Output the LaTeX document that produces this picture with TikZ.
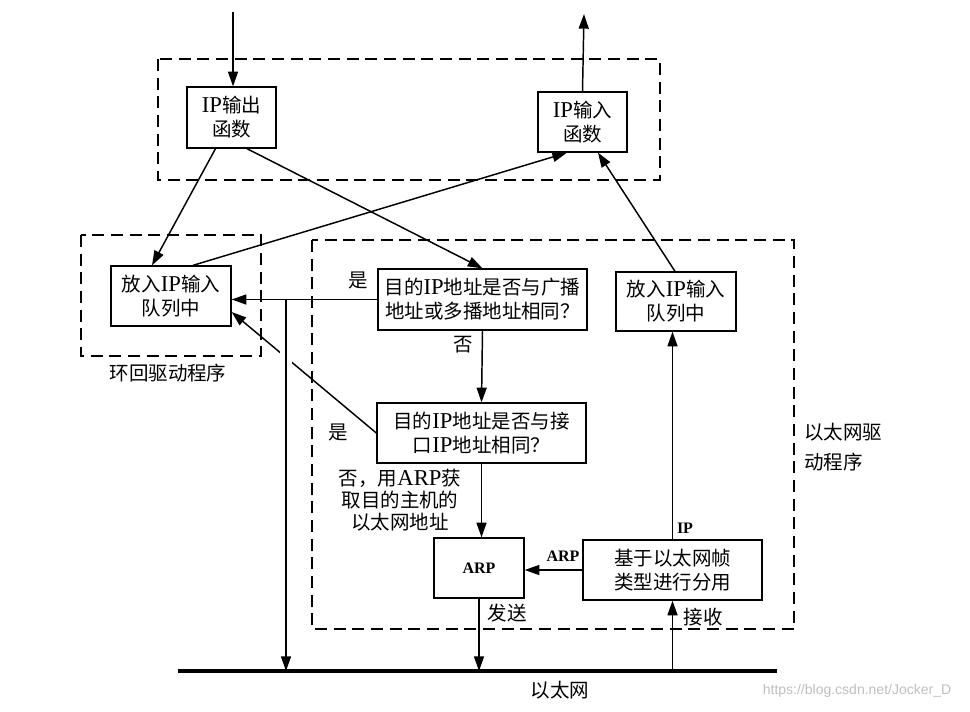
\documentclass[tikz,border=0pt]{standalone}
\usepackage{fontspec}
\setmainfont{Liberation Serif}
\newfontfamily\cjk[Scale=0.86]{Noto Sans CJK SC}
\newfontfamily\wmfont{Liberation Sans}
\newcommand\zh[1]{{\cjk #1}}
\usetikzlibrary{arrows.meta,calc}
\begin{document}
\begin{tikzpicture}[x=0.75pt,y=-0.75pt,
  box/.style={draw, line width=1pt, inner sep=0pt, align=center, font=\fontsize{17}{18}\selectfont},
  grp/.style={draw, dash pattern=on 9pt off 5pt, line width=0.9pt},
  conn/.style={line width=1.1pt},
  arr/.style={conn, -{Triangle[length=11pt,width=7.5pt]}},
  lbl/.style={font=\fontsize{17}{18}\selectfont, inner sep=0pt},
  note/.style={font=\fontsize{17}{16.5}\selectfont, inner sep=0pt, align=center},
  blbl/.style={font=\bfseries\fontsize{12}{14}\selectfont, inner sep=0pt}]
\useasboundingbox (0,0) rectangle (970,711);

% dashed groups
\draw[grp] (158,59) rectangle (660,180);
\draw[grp] (81,235) rectangle (261,356);
\draw[grp] (312,240) rectangle (794,629);

% boxes
\node[box, minimum width=66.75pt, minimum height=45.75pt] (ipout) at (231.5,117.5) {IP\zh{输出}\\\zh{函数}};
\node[box, minimum width=66.75pt, minimum height=45pt] (ipin) at (582.5,122) {IP\zh{输入}\\\zh{函数}};
\node[box, minimum width=90pt, minimum height=45pt] (lbq) at (171,296) {\zh{放入}IP\zh{输入}\\\zh{队列中}};
\node[box, minimum width=156.75pt, minimum height=45.75pt] (d1) at (482.5,299.5) {\zh{目的}IP\zh{地址是否与广播}\\\zh{地址或多播地址相同？}};
\node[box, minimum width=156.75pt, minimum height=45pt] (d2) at (481.5,433) {\zh{目的}IP\zh{地址是否与接}\\\zh{口}IP\zh{地址相同？}};
\node[box, minimum width=90pt, minimum height=44.25pt] (eq) at (676,301.5) {\zh{放入}IP\zh{输入}\\\zh{队列中}};
\node[box, minimum width=134.25pt, minimum height=45pt] (demux) at (672.5,570) {\zh{基于以太网帧}\\\zh{类型进行分用}};
\node[box, minimum width=67.5pt, minimum height=45pt, font=\bfseries\fontsize{12}{14}\selectfont] (arp) at (479,568) {ARP};

% coordinates
\coordinate (in) at (233,12);
\coordinate (out) at (584,14);
\coordinate (busL) at (178,671);
\coordinate (busR) at (777,671);
\coordinate (j1) at (286,0);

% ethernet bus
\draw[line width=3.5pt] (busL) -- (busR);

% connectors
\draw[arr] (in) -- (in |- ipout.north);
\draw[arr] (ipin.north) -- (out);
\draw[arr] ($(ipout.south)+(-16,0)$) -- ($(lbq.north)+(-19,0)$);
\draw[arr] ($(lbq.north)+(22,0)$) -- ($(ipin.south)+(-15.5,0)$);
\draw[arr] ($(ipout.south)+(15.5,0)$) -- (d1.north);
\draw[arr] (d1.west) -- (d1.west -| lbq.east);
\draw[arr] (d2.west) -- ($(lbq.east)+(0,16)$);
\draw[white, line width=9pt] (j1 |- 0,344) -- (j1 |- 0,371);
\draw[arr] (d1.west -| j1) -- (j1 |- busL);
\draw[arr] (d1.south) -- (d2.north);
\draw[arr] (d2.south) -- (d2.south |- arp.north);
\draw[arr] (arp.south) -- (arp.south |- busL);
\draw[arr] (demux.west) -- (demux.west -| arp.east);
\draw[arr] (demux.south |- busL) -- (demux.south);
\draw[arr] (demux.north) -- (demux.north |- eq.south);
\draw[arr] ($(eq.north)+(-1,0)$) -- ($(ipin.south)+(15.5,0)$);

% labels
\node[lbl] (yes1) at (358,280) {\zh{是}};
\node[lbl] (no1) at (463,345) {\zh{否}};
\node[lbl] (yes2) at (338,432) {\zh{是}};
\node[note] (no2) at (400,500) {\zh{否，用}ARP\zh{获}\\\zh{取目的主机的}\\\zh{以太网地址}};
\node[blbl] (arpl) at (563,556) {ARP};
\node[blbl] (ipl) at (685,528) {IP};
\node[lbl] (send) at (507,613) {\zh{发送}};
\node[lbl] (recv) at (703,617) {\zh{接收}};
\node[lbl] (eth) at (560,690) {\zh{以太网}};
\node[lbl] (lbname) at (168,373) {\zh{环回驱动程序}};
\node[lbl, anchor=west, align=left, font=\fontsize{17}{22.5}\selectfont] (ethname) at (804,447) {\zh{以太网驱}\\\zh{动程序}};
\node[inner sep=0pt, text=black!25, font=\wmfont\fontsize{10.5}{12}\selectfont] (wm) at (857,691) {https://blog.csdn.net/Jocker\_D};
\end{tikzpicture}
\end{document}
